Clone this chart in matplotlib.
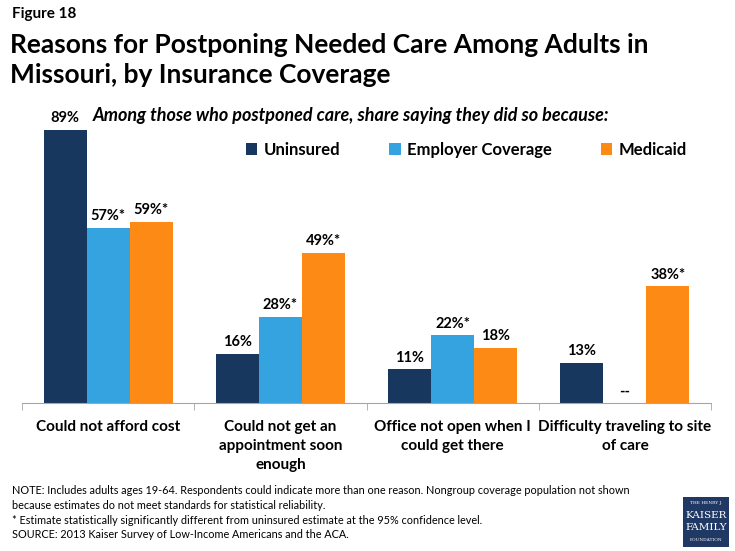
import matplotlib
matplotlib.use("Agg")
import matplotlib.pyplot as plt
import numpy as np
from matplotlib.patches import Rectangle

plt.rcParams['font.family'] = ['Lato', 'DejaVu Sans']

categories = ["Could not afford cost", "Could not get an\nappointment soon\nenough",
              "Office not open when I\ncould get there", "Difficulty traveling to site\nof care"]
series_names = ["Uninsured", "Employer Coverage", "Medicaid"]
uninsured = [89, 16, 11, 13]
employer = [57, 28, 22, np.nan]
medicaid = [59, 49, 18, 38]
uninsured_labels = ["89%", "16%", "11%", "13%"]
employer_labels = ["57%*", "28%*", "22%*", "--"]
medicaid_labels = ["59%*", "49%*", "18%", "38%*"]
colors = ["#17375E", "#34A3E0", "#FD8A15"]

fig = plt.figure(figsize=(7.35, 5.51), dpi=100)
ax = fig.add_axes([22/735, 1 - 403/551, 689/735, 307/551])

x = np.arange(len(categories))
w = 0.25
all_vals = [uninsured, employer, medicaid]
all_labels = [uninsured_labels, employer_labels, medicaid_labels]
for i, (vals, labs, c, name) in enumerate(zip(all_vals, all_labels, colors, series_names)):
    pos = x + (i - 1) * w
    v = np.array(vals, dtype=float)
    ax.bar(pos, np.nan_to_num(v), width=w, color=c, label=name, edgecolor='none')
    for p, val, lab in zip(pos, v, labs):
        yy = 0 if np.isnan(val) else val
        ax.text(p, yy + 1.5, lab, ha='center', va='bottom', fontsize=10.5, fontweight='bold', color='black')

ax.set_xlim(-0.5, len(categories) - 0.5)
ax.set_ylim(0, 100)
for s in ['top', 'right', 'left']:
    ax.spines[s].set_visible(False)
ax.spines['bottom'].set_color('#A6A6A6')
ax.set_yticks([])
ax.set_xticks(x)
ax.set_xticklabels(categories, fontsize=11, fontweight='bold', linespacing=1.45)
ax.tick_params(axis='x', which='major', length=0, pad=12)
ax.set_xticks(np.arange(-0.5, len(categories), 1.0), minor=True)
ax.tick_params(axis='x', which='minor', length=5, color='#A6A6A6', direction='out')

leg = ax.legend(loc='upper left', bbox_to_anchor=(0.303, 0.90), ncol=3, frameon=False,
                handlelength=0.7, handleheight=0.7, handletextpad=0.4,
                columnspacing=2.9, prop={'weight': 'bold', 'size': 12})

fig.text(12/735, 1 - 14/551, "Figure 18", fontsize=11, fontweight='bold', va='center')
fig.text(10/735, 1 - 60/551, "Reasons for Postponing Needed Care Among Adults in\nMissouri, by Insurance Coverage",
         fontsize=19, fontweight='bold', va='center', linespacing=1.3)
fig.text(93/735, 1 - 115/551, "Among those who postponed care, share saying they did so because:",
         fontsize=13, fontweight='bold', style='italic', va='center')

notes = ("NOTE: Includes adults ages 19-64. Respondents could indicate more than one reason. Nongroup coverage population not shown\n"
         "because estimates do not meet standards for statistical reliability.\n"
         "* Estimate statistically significantly different from uninsured estimate at the 95% confidence level.\n"
         "SOURCE: 2013 Kaiser Survey of Low-Income Americans and the ACA.")
fig.text(12/735, 1 - 485/551, notes, fontsize=7.8, va='top', linespacing=1.42)

# logo
fig.patches.append(Rectangle((683/735, 1 - 547/551), 46/735, 50/551, transform=fig.transFigure,
                             facecolor='#1F3864', edgecolor='none'))
fig.text(706/735, 1 - 503/551, "THE HENRY J.", fontsize=3.2, color='white', ha='center', va='center', family='DejaVu Serif')
fig.text(706/735, 1 - 515/551, "KAISER", fontsize=7.5, color='white', ha='center', va='center', family='DejaVu Serif')
fig.text(706/735, 1 - 528/551, "FAMILY", fontsize=7.5, color='white', ha='center', va='center', family='DejaVu Serif')
fig.text(706/735, 1 - 540/551, "FOUNDATION", fontsize=3.2, color='white', ha='center', va='center', family='DejaVu Serif')

fig.savefig("out.png", dpi=100)
